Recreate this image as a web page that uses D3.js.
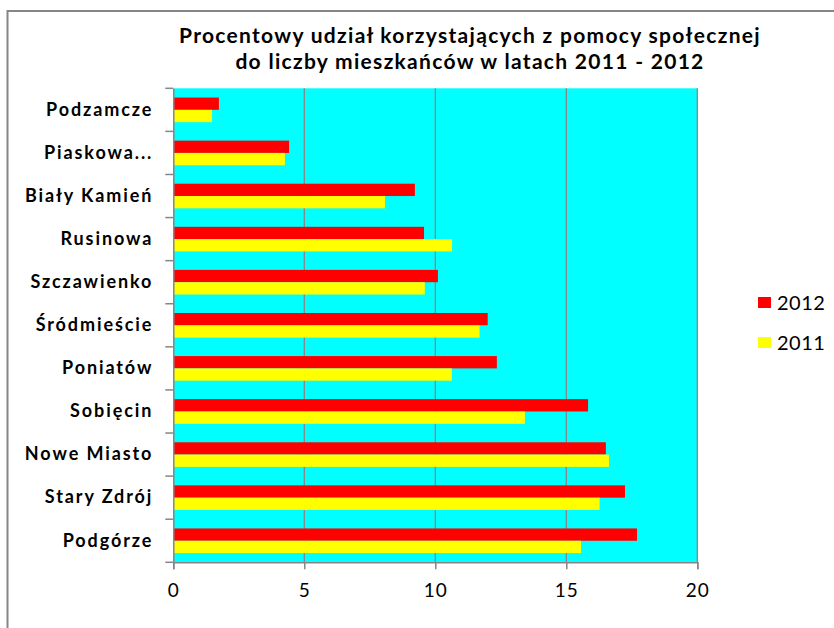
<!DOCTYPE html>
<html>
<head>
<meta charset="utf-8">
<script src="https://cdn.jsdelivr.net/npm/d3@7"></script>
<style>
  body { margin: 0; background: #fff; }
  svg { display: block; font-family: Lato, "Open Sans", sans-serif; }
</style>
</head>
<body>
<div id="chart"></div>
<script>
// categories top to bottom
var districts = ["Podzamcze", "Piaskowa...", "Biały Kamień", "Rusinowa", "Szczawienko",
  "Śródmieście", "Poniatów", "Sobięcin", "Nowe Miasto", "Stary Zdrój", "Podgórze"];
var years = ["2012", "2011"];
var values2012 = [1.74, 4.42, 9.22, 9.57, 10.1, 12.0, 12.35, 15.83, 16.51, 17.24, 17.7];
var values2011 = [1.48, 4.26, 8.08, 10.64, 9.6, 11.69, 10.63, 13.42, 16.63, 16.27, 15.56];
var xTicks = [0, 5, 10, 15, 20];
var colors = {"2012": "#ff0000", "2011": "#ffff00"};

var W = 834, H = 628;
var plot = {left: 173.3, right: 697.3, top: 88.3, bottom: 562.3};

var svg = d3.select("#chart").append("svg")
  .attr("width", W)
  .attr("height", H);

// outer chart border (only left and top show in the picture)
svg.append("path")
  .attr("d", `M7.5,${H} L7.5,11 L${W},11`)
  .attr("fill", "none")
  .attr("stroke", "#868686")
  .attr("stroke-width", 2);

var data = districts.map((d, i) => ({name: d, "2012": values2012[i], "2011": values2011[i]}));

var x = d3.scaleLinear()
  .domain([0, 20])
  .range([plot.left, plot.right]);

var y = d3.scaleBand()
  .domain(districts)
  .range([plot.top, plot.bottom])
  .padding(0);

var ySub = d3.scaleBand()
  .domain(years)
  .range([0, y.bandwidth()])
  .paddingInner(0)
  .paddingOuter(0.75);

// plot background
svg.append("rect")
  .attr("x", plot.left)
  .attr("y", plot.top)
  .attr("width", plot.right - plot.left)
  .attr("height", plot.bottom - plot.top)
  .attr("fill", "#00ffff");

// vertical gridlines
svg.append("g")
  .selectAll("line")
  .data(xTicks.slice(1))
  .join("line")
  .attr("x1", d => x(d))
  .attr("x2", d => x(d))
  .attr("y1", plot.top)
  .attr("y2", plot.bottom)
  .attr("stroke", "#868686")
  .attr("stroke-width", 1.3);

// bars
svg.append("g")
  .selectAll("g")
  .data(data)
  .join("g")
  .attr("transform", d => `translate(0,${y(d.name)})`)
  .selectAll("rect")
  .data(d => years.map(k => ({key: k, value: d[k]})))
  .join("rect")
  .attr("x", x(0))
  .attr("y", d => ySub(d.key))
  .attr("width", d => x(d.value) - x(0))
  .attr("height", ySub.bandwidth())
  .attr("fill", d => colors[d.key]);

// x axis
var xAxis = svg.append("g")
  .attr("transform", `translate(0,${plot.bottom})`)
  .call(d3.axisBottom(x).tickValues(xTicks).tickSize(7).tickPadding(14).tickFormat(d3.format("d")));
xAxis.selectAll("line, path").attr("stroke", "#868686").attr("stroke-width", 1.5);
xAxis.selectAll("text")
  .attr("fill", "#000")
  .style("font-size", "19px")
  .style("letter-spacing", "1px")
  .style("font-family", "Lato, sans-serif");

// y axis
var yAxis = svg.append("g")
  .attr("transform", `translate(${plot.left},0)`)
  .call(d3.axisLeft(y).tickSize(0).tickPadding(20));
yAxis.select("path").attr("stroke", "#868686").attr("stroke-width", 1.5);
yAxis.selectAll("text")
  .attr("fill", "#000")
  .style("font-size", "18px")
  .style("font-weight", "bold")
  .style("letter-spacing", "1.9px")
  .style("font-family", "Lato, sans-serif");

// category tick marks at band edges
svg.append("g")
  .selectAll("line")
  .data(districts.map(d => y(d)).concat([plot.bottom]))
  .join("line")
  .attr("x1", plot.left - 8)
  .attr("x2", plot.left)
  .attr("y1", d => d)
  .attr("y2", d => d)
  .attr("stroke", "#868686")
  .attr("stroke-width", 1.5);

// title
var title = svg.append("text")
  .attr("x", 470)
  .attr("text-anchor", "middle")
  .style("font-size", "21px")
  .style("font-weight", "bold")
  .style("letter-spacing", "1.3px")
  .attr("fill", "#000");
title.append("tspan").attr("x", 470).attr("y", 43).text("Procentowy udział korzystających z pomocy społecznej");
title.append("tspan").attr("x", 470).attr("y", 69).text("do liczby mieszkańców w latach 2011 - 2012");

// legend
var legend = svg.append("g")
  .selectAll("g")
  .data(years)
  .join("g")
  .attr("transform", (d, i) => `translate(758,${297 + i * 40})`);
legend.append("rect")
  .attr("width", 13)
  .attr("height", 11)
  .attr("fill", d => colors[d]);
legend.append("text")
  .attr("x", 19)
  .attr("y", 6)
  .attr("dy", "0.35em")
  .style("font-size", "20px")
  .style("letter-spacing", "0.5px")
  .attr("fill", "#000")
  .text(d => d);
</script>
</body>
</html>
